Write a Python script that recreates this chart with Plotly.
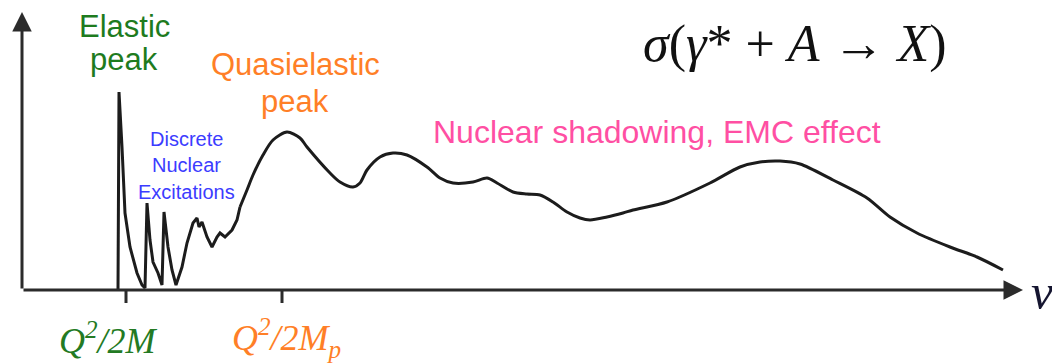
import plotly.graph_objects as go

# Photoabsorption cross section sketch: sigma vs energy transfer nu
# (nu measured from the vertical axis, sigma from the horizontal axis)

# Elastic peak and discrete nuclear excitations (sharp spikes)
nu_discrete = [96, 97, 100, 103, 108, 115, 120, 123, 125, 128, 131, 136, 140, 142,
               146, 150, 154, 160, 165, 171, 175, 177, 180, 185, 190, 195, 198,
               203, 210, 215, 218]
sigma_discrete = [0, 198, 143, 77, 43, 17, 5, 2, 87, 50, 28, 17, 5, 78,
                  43, 20, 5, 23, 47, 67, 72, 63, 68, 53, 43, 53, 57,
                  53, 60, 70, 83]

# Quasielastic peak and the continuum beyond
nu_cont = [218, 225, 231, 241, 251, 265, 278, 285, 308, 318, 331, 338, 345,
           358, 371, 385, 405, 418, 431, 451, 465, 475, 491, 505, 518, 531,
           545, 558, 568, 585, 601, 611, 645, 688, 718, 738, 758, 778, 811,
           845, 868, 895, 928, 955, 981]
sigma_cont = [83, 100, 115, 135, 150, 158, 152, 143, 117, 108, 103, 107, 120,
              133, 137, 135, 123, 112, 107, 108, 112, 107, 98, 96, 95, 88,
              78, 72, 70, 73, 77, 80, 88, 107, 123, 128, 129, 126, 110,
              92, 73, 57, 43, 33, 20]

# Threshold positions on the nu axis
tick_nu = [104, 260]
tick_labels = ["<i>Q<sup>2</sup>/2M</i>", "<i>Q<sup>2</sup>/2M<sub>p</sub></i>"]
tick_colors = ["#237a23", "#ff7f27"]

fig = go.Figure()
line_style = dict(color="#1c1c1c", width=3)
fig.add_trace(go.Scatter(x=nu_discrete, y=sigma_discrete, mode="lines",
                         line=line_style, hoverinfo="skip"))
fig.add_trace(go.Scatter(x=nu_cont, y=sigma_cont, mode="lines",
                         line=dict(shape="spline", smoothing=0.8, **line_style),
                         hoverinfo="skip"))

axis_color = "#2b2b2b"
# horizontal (nu) and vertical (sigma) axes with arrowheads
fig.add_annotation(x=1001, y=0, ax=0, ay=0, xref="x", yref="y", axref="x", ayref="y",
                   showarrow=True, arrowhead=2, arrowsize=1.3, arrowwidth=3,
                   arrowcolor=axis_color, text="")
fig.add_annotation(x=0, y=278, ax=0, ay=0, xref="x", yref="y", axref="x", ayref="y",
                   showarrow=True, arrowhead=2, arrowsize=1.3, arrowwidth=3,
                   arrowcolor=axis_color, text="")

for t in tick_nu:
    fig.add_shape(type="line", x0=t, x1=t, y0=0, y1=-13, xref="x", yref="y",
                  line=dict(color=axis_color, width=3))

tick_label_x = [86, 264]
for x, lab, col in zip(tick_label_x, tick_labels, tick_colors):
    fig.add_annotation(x=x, y=-48, text=lab, showarrow=False,
                       font=dict(family="Liberation Serif", size=36, color=col))

sans = "Liberation Sans"
labels = [
    (102, 264, "Elastic", 31, "#1e7b1e"),
    (102, 231, "peak", 31, "#1e7b1e"),
    (273, 226, "Quasielastic", 31, "#ff7f27"),
    (273, 189, "peak", 31, "#ff7f27"),
    (164, 151, "Discrete", 20, "#3c3cff"),
    (164, 125, "Nuclear", 20, "#3c3cff"),
    (164, 98, "Excitations", 20, "#3c3cff"),
    (635, 158, "Nuclear shadowing, EMC effect", 32, "#ff4fa3"),
]
for x, y, txt, size, col in labels:
    fig.add_annotation(x=x, y=y, text=txt, showarrow=False,
                       font=dict(family=sans, size=size, color=col))

fig.add_annotation(x=773, y=246, showarrow=False,
                   text="<i>σ</i>(<i>γ</i>* + <i>A</i> → <i>X</i>)",
                   font=dict(family="Liberation Serif", size=52, color="#111111"))
fig.add_annotation(x=1020, y=-2, showarrow=False, text="<i>ν</i>",
                   font=dict(family="Liberation Serif", size=50, color="#151530"))

fig.update_layout(
    width=1052, height=364,
    margin=dict(l=0, r=0, t=0, b=0),
    paper_bgcolor="white", plot_bgcolor="white",
    showlegend=False,
    xaxis=dict(range=[-22, 1030], visible=False, fixedrange=True),
    yaxis=dict(range=[-74, 290], visible=False, fixedrange=True),
)

fig.write_html("out.html")
